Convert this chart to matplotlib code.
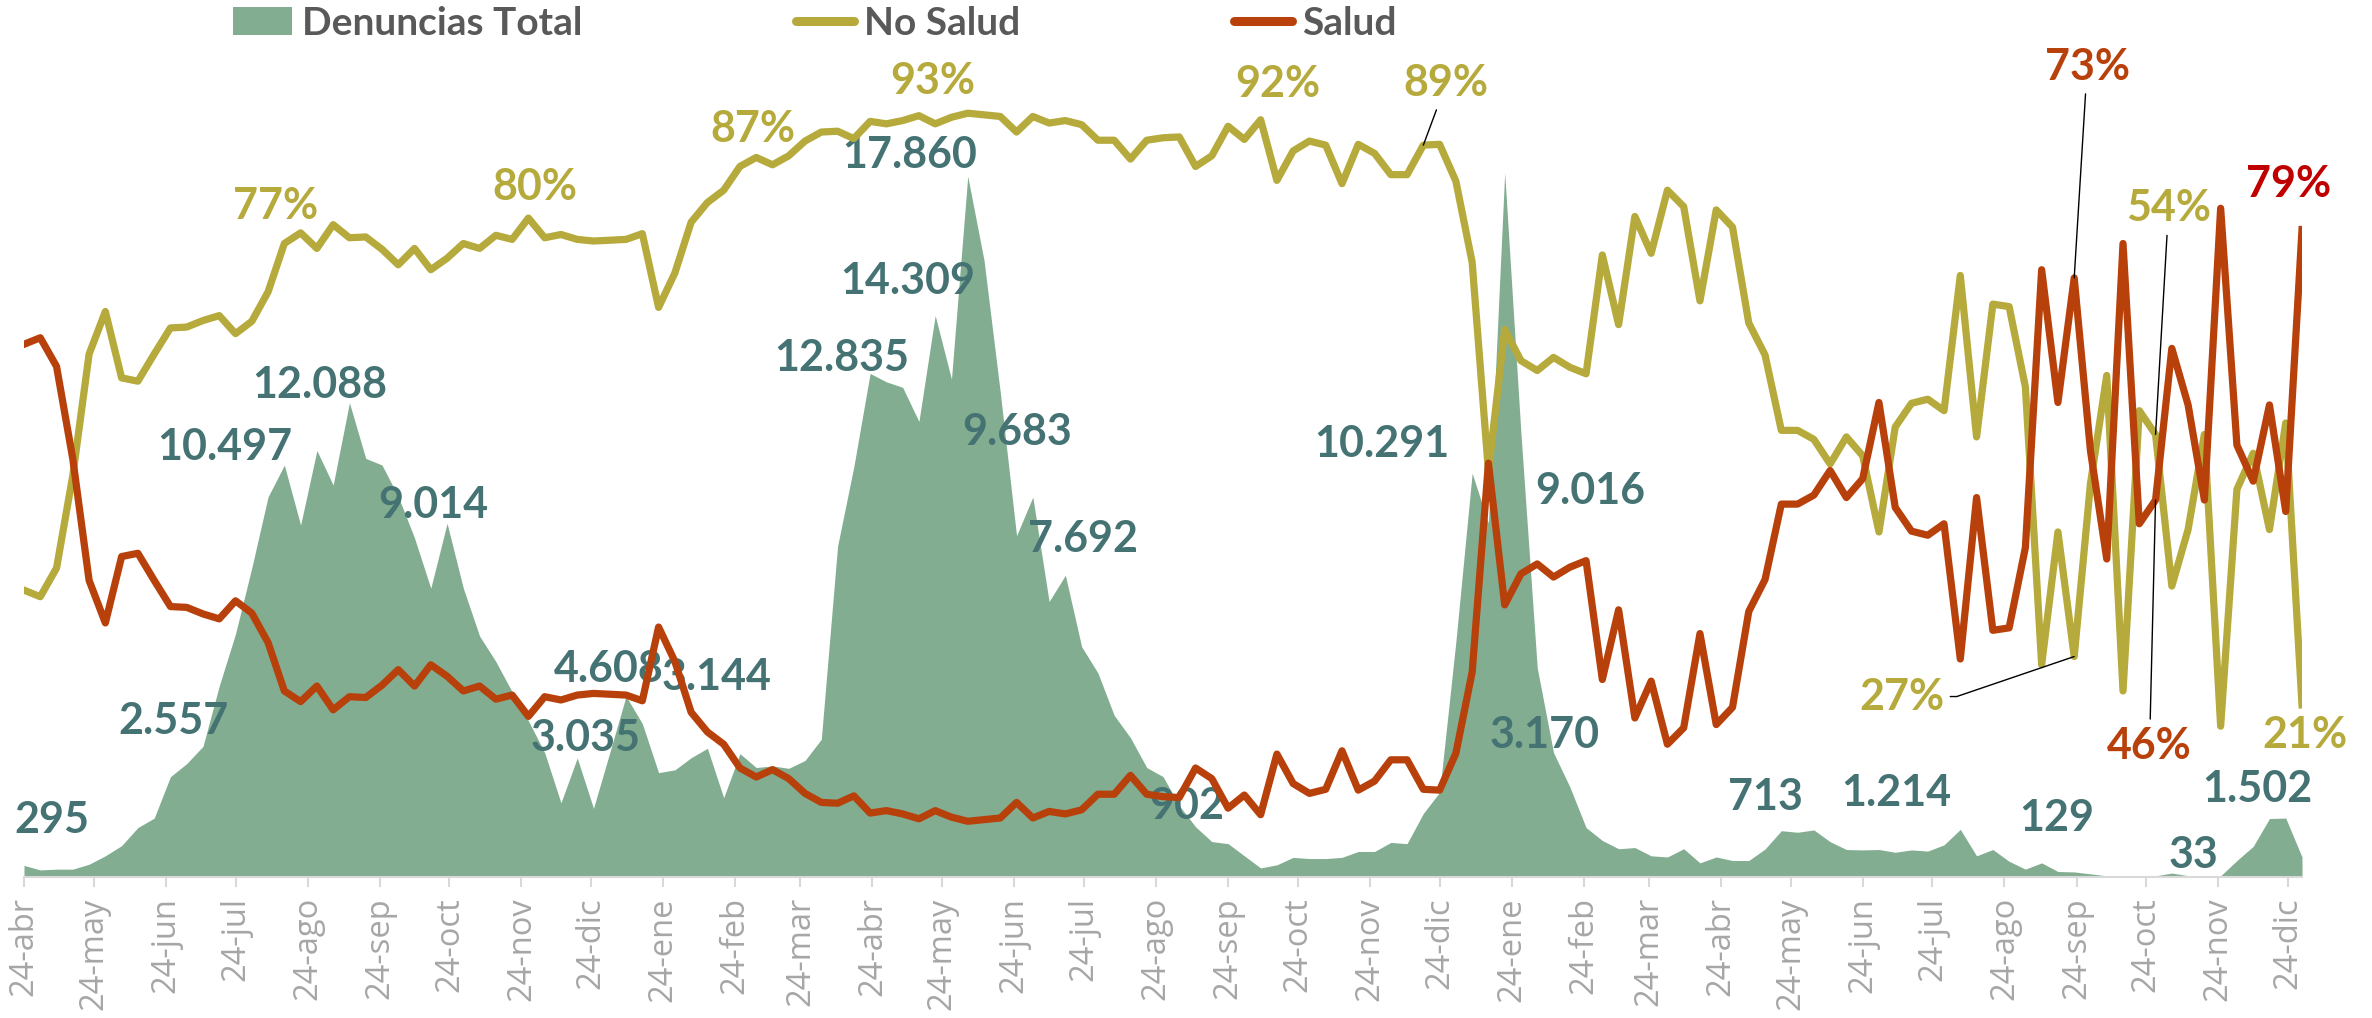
import matplotlib
matplotlib.use('Agg')
import matplotlib.pyplot as plt
from matplotlib.ticker import FuncFormatter
import matplotlib.dates as mdates
from matplotlib.patches import Patch
from matplotlib.lines import Line2D
import pandas as pd

# weekly data, 24-abr-2020 .. 30-dic-2022
semanas = pd.date_range('2020-04-24', periods=141, freq='7D')
meses = ['ene', 'feb', 'mar', 'abr', 'may', 'jun', 'jul', 'ago', 'sep', 'oct', 'nov', 'dic']

denuncias = [
    295, 180, 200, 200, 325, 540, 800, 1260, 1500, 2557,
    2890, 3330, 4870, 6200, 7880, 9690, 10497, 8970, 10870, 9990,
    12088, 10670, 10500, 9700, 8640, 7360, 9014, 7360, 6140, 5490,
    4720, 3980, 3170, 1890, 3035, 1750, 3170, 4608, 3910, 2660,
    2730, 3040, 3280, 2020, 3144, 2790, 2830, 2770, 2970, 3510,
    8430, 10460, 12835, 12620, 12480, 11610, 14309, 12690, 17860, 15720,
    12350, 8700, 9683, 7020, 7692, 5870, 5200, 4120, 3550, 2790,
    2560, 1820, 1280, 902, 850, 540, 230, 310, 500, 470,
    470, 500, 650, 650, 880, 850, 1620, 2160, 6000, 10291,
    9016, 17950, 11300, 5330, 3170, 2300, 1260, 930, 720, 750,
    540, 510, 720, 360, 510, 420, 420, 713, 1180, 1140,
    1200, 900, 700, 690, 700, 630, 690, 660, 820, 1214,
    540, 700, 400, 200, 360, 140, 129, 80, 30, 20,
    20, 30, 100, 33, 30, 30, 420, 780, 1490, 1502,
    510,
]

no_salud = [
    35.0, 34.2, 37.7, 49.0, 63.8, 69.0, 60.9, 60.5, 63.8, 67.0,
    67.1, 67.9, 68.5, 66.3, 67.8, 71.4, 77.3, 78.6, 76.7, 79.6,
    78.0, 78.1, 76.6, 74.7, 76.7, 74.1, 75.5, 77.3, 76.7, 78.3,
    77.8, 80.4, 78.0, 78.4, 77.8, 77.6, 77.7, 77.8, 78.5, 69.5,
    73.7, 79.9, 82.3, 83.8, 86.7, 87.8, 86.9, 88.0, 89.8, 90.9,
    91.0, 90.1, 92.2, 91.9, 92.3, 92.9, 91.9, 92.7, 93.2, 93.0,
    92.8, 90.9, 92.8, 92.0, 92.3, 91.8, 89.9, 89.9, 87.6, 89.9,
    90.2, 90.3, 86.7, 88.0, 91.6, 90.0, 92.4, 85.0, 88.6, 89.8,
    89.3, 84.6, 89.4, 88.3, 85.7, 85.7, 89.3, 89.4, 84.9, 75.0,
    49.5, 66.8, 63.0, 61.8, 63.4, 62.2, 61.4, 75.9, 67.4, 80.6,
    76.1, 83.8, 81.8, 70.3, 81.4, 79.3, 67.6, 63.7, 54.5, 54.5,
    53.4, 50.4, 53.7, 51.4, 42.1, 54.9, 57.8, 58.3, 56.9, 73.4,
    53.7, 69.9, 69.6, 59.8, 25.9, 42.1, 26.9, 48.0, 61.2, 22.7,
    56.9, 54.0, 35.5, 42.4, 54.0, 18.4, 47.3, 51.7, 42.4, 55.4,
    21.0,
]

salud = [
    65.0, 65.8, 62.3, 51.0, 36.2, 31.0, 39.1, 39.5, 36.2, 33.0,
    32.9, 32.1, 31.5, 33.7, 32.2, 28.6, 22.7, 21.4, 23.3, 20.4,
    22.0, 21.9, 23.4, 25.3, 23.3, 25.9, 24.5, 22.7, 23.3, 21.7,
    22.2, 19.6, 22.0, 21.6, 22.2, 22.4, 22.3, 22.2, 21.5, 30.5,
    26.3, 20.1, 17.7, 16.2, 13.3, 12.2, 13.1, 12.0, 10.2, 9.1,
    9.0, 9.9, 7.8, 8.1, 7.7, 7.1, 8.1, 7.3, 6.8, 7.0,
    7.2, 9.1, 7.2, 8.0, 7.7, 8.2, 10.1, 10.1, 12.4, 10.1,
    9.8, 9.7, 13.3, 12.0, 8.4, 10.0, 7.6, 15.0, 11.4, 10.2,
    10.7, 15.4, 10.6, 11.7, 14.3, 14.3, 10.7, 10.6, 15.1, 25.0,
    50.5, 33.2, 37.0, 38.2, 36.6, 37.8, 38.6, 24.1, 32.6, 19.4,
    23.9, 16.2, 18.2, 29.7, 18.6, 20.7, 32.4, 36.3, 45.5, 45.5,
    46.6, 49.6, 46.3, 48.6, 57.9, 45.1, 42.2, 41.7, 43.1, 26.6,
    46.3, 30.1, 30.4, 40.2, 74.1, 57.9, 73.1, 52.0, 38.8, 77.3,
    43.1, 46.0, 64.5, 57.6, 46.0, 81.6, 52.7, 48.3, 57.6, 44.6,
    79.0,
]

# data labels: (week index, offset x px, offset y px)
lbl_denuncias = [
    (0, 28, 45), (9, 3, 56), (16, -60, 18), (20, -30, 18), (26, -14, 18),
    (34, 8, 20), (37, -17, 27), (44, -23, 77), (52, -28, 15), (56, -27, 35),
    (58, -58, 21), (62, -16, 65), (64, 18, 36), (73, -25, 36), (89, -90, 29),
    (90, 102, 32), (94, -9, 18), (107, 0, 52), (119, -64, 36), (126, -17, 54),
    (133, 5, 21), (139, -28, 29),
]
# (week index, dx, dy, leader line, colour)
lbl_no_salud = [(16, -9, 37, False), (31, 6, 31, False), (46, -20, 36, False),
                (58, -35, 32, False), (76, 17, 36, False), (86, 23, 62, True),
                (126, -172, -40, True), (131, 13, 226, True), (140, 3, -30, False)]
lbl_salud = [(126, 13, 211, True, '#B8400B'), (131, -6, -246, True, '#B8400B'),
             (140, -13, 46, False, '#C00000')]

AREA = '#82AD91'
C_NO = '#B5AA3B'
C_SA = '#B8400B'
TEAL = '#457272'

plt.rcParams['font.family'] = ['Lato', 'DejaVu Sans']

W, H = 2372, 1018
fig = plt.figure(figsize=(W / 100, H / 100), dpi=100)
ax = fig.add_axes([24 / W, 1 - 877 / H, (2302 - 24) / W, (877 - 55) / H])
ax2 = ax.twinx()

x = mdates.date2num(semanas)
ax.fill_between(x, denuncias, 0, color=AREA, lw=0)
ax2.plot(x, no_salud, color=C_NO, lw=5.2, solid_joinstyle='round')
ax2.plot(x, salud, color=C_SA, lw=5.2, solid_joinstyle='round')

ax.set_xlim(x[0], x[-1])
ax.set_ylim(0, 20950)
ax2.set_ylim(0, 100.3)

for a in (ax, ax2):
    for s in ('top', 'left', 'right'):
        a.spines[s].set_visible(False)
    a.set_yticks([])
ax2.spines['bottom'].set_visible(False)
ax.spines['bottom'].set_color('#D9D9D9')
ax.spines['bottom'].set_linewidth(1.5)

ax.xaxis.set_major_locator(mdates.MonthLocator(bymonthday=24))
ax.xaxis.set_major_formatter(FuncFormatter(
    lambda v, pos: f"{mdates.num2date(v).day}-{meses[mdates.num2date(v).month - 1]}"))
ax.tick_params(axis='x', direction='out', length=7.5, width=1.5, color='#D9D9D9',
               labelcolor='#A6A6A6', labelsize=23.5, rotation=90, pad=7)
for t in ax.get_xticklabels():
    t.set_family(['Open Sans', 'DejaVu Sans'])

def miles(v):
    return f"{v:,}".replace(',', '.')

for i, dx, dy in lbl_denuncias:
    ax.annotate(miles(denuncias[i]), (x[i], denuncias[i]), xytext=(dx, dy),
                textcoords='offset pixels', ha='center', va='center',
                fontsize=31, fontweight='bold', color=TEAL, zorder=5)

lead = dict(arrowstyle='-', color='black', lw=1.0, shrinkA=3, shrinkB=0)
for i, dx, dy, ld in lbl_no_salud:
    props = None
    if ld:
        props = dict(lead)
        if dx < -100:
            # elbow leader starting at the right side of the text
            props.update(relpos=(1.0, 0.5), shrinkA=2,
                         connectionstyle='arc,angleA=0,angleB=0,armA=12,armB=0,rad=0')
    ax2.annotate(f"{round(no_salud[i])}%", (x[i], no_salud[i]), xytext=(dx, dy),
                 textcoords='offset pixels', ha='center', va='center',
                 fontsize=31, fontweight='bold', color=C_NO,
                 arrowprops=props, zorder=5)
for i, dx, dy, ld, c in lbl_salud:
    ax2.annotate(f"{round(salud[i])}%", (x[i], salud[i]), xytext=(dx, dy),
                 textcoords='offset pixels', ha='center', va='center',
                 fontsize=31, fontweight='bold', color=c,
                 arrowprops=lead if ld else None, zorder=5)

handles = [Patch(facecolor=AREA, edgecolor='none'),
           Line2D([], [], color=C_NO, lw=6.5, solid_capstyle='round'),
           Line2D([], [], color=C_SA, lw=6.5, solid_capstyle='round')]
fig.legend(handles, ['Denuncias Total', 'No Salud', 'Salud'], loc='center',
           bbox_to_anchor=(815 / W, 1 - 23 / H), ncol=3, frameon=False,
           columnspacing=5.5, handlelength=1.5, handletextpad=0.25,
           prop={'weight': 'bold', 'size': 28}, labelcolor='#595959')

fig.savefig('out.png', dpi=100)
